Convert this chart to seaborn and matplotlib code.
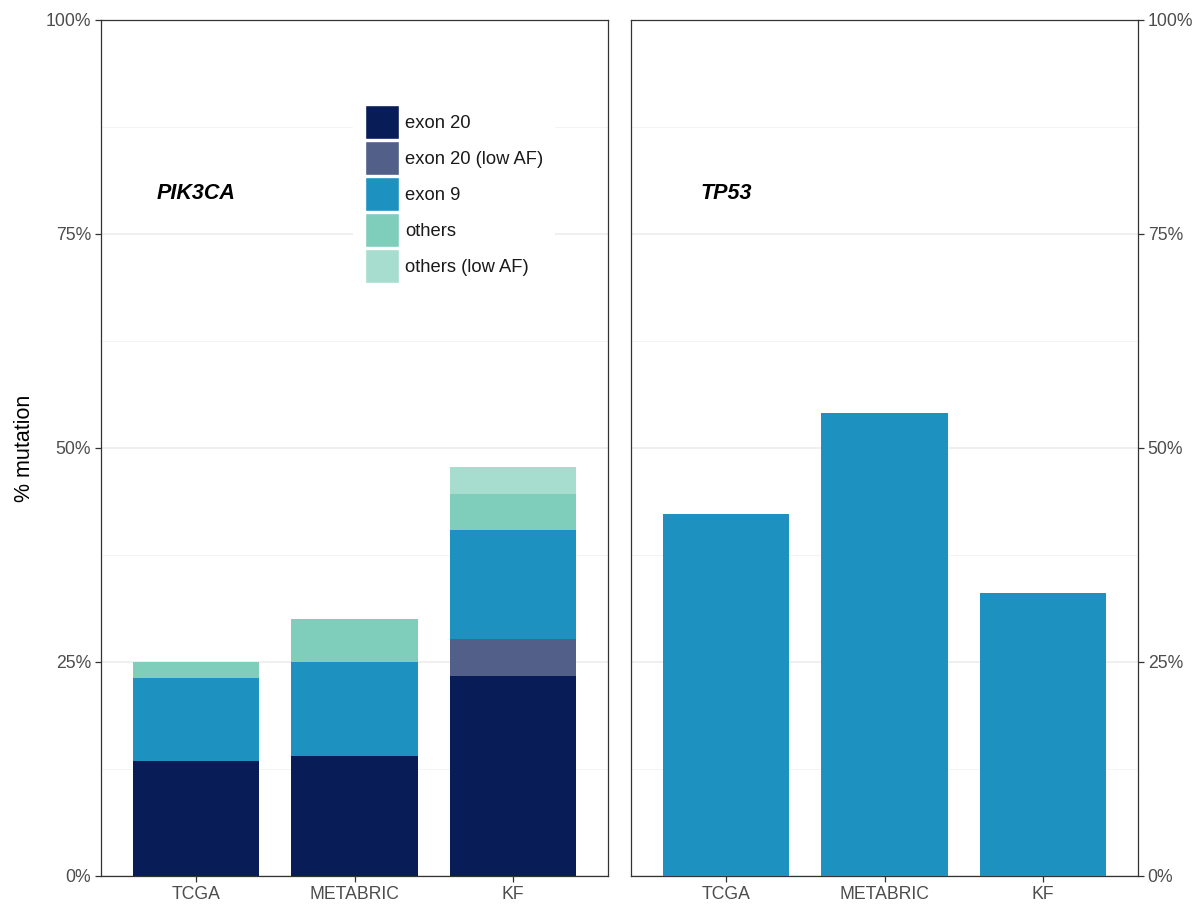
import numpy as np
import pandas as pd
import matplotlib
matplotlib.use("Agg")
import matplotlib.pyplot as plt
from matplotlib.patches import Patch
import seaborn as sns

sns.set_theme(style="white")
plt.rcParams['font.family'] = ['Liberation Sans', 'DejaVu Sans']

# ---- data ----
cohorts = ["TCGA", "METABRIC", "KF"]
layers = ["exon 20", "exon 20 (low AF)", "exon 9", "others", "others (low AF)"]
pik3ca_exon20 = [13.45, 14.05, 23.4]
pik3ca_exon20_low = [0.0, 0.0, 4.3]
pik3ca_exon9 = [9.65, 10.95, 12.7]
pik3ca_others = [1.9, 5.0, 4.2]
pik3ca_others_low = [0.0, 0.0, 3.2]
tp53_values = [42.3, 54.0, 33.0]
y_ticks = [0, 25, 50, 75, 100]
y_tick_labels = ["0%", "25%", "50%", "75%", "100%"]
gene_labels = ["PIK3CA", "TP53"]

colors = ["#081d58", "#525f88", "#1d91c0", "#7fcdbb", "#a6ddcf"]
tp53_color = "#1d91c0"

W, H = 1204, 907
fig = plt.figure(figsize=(W / 100, H / 100), dpi=100)
fig.patch.set_facecolor("white")

top_px, bot_px = 19.5, 876
ax1 = fig.add_axes([101 / W, (H - bot_px) / H, 507 / W, (bot_px - top_px) / H])
ax2 = fig.add_axes([631 / W, (H - bot_px) / H, 507 / W, (bot_px - top_px) / H])

tick_col = "#4d4d4d"
border_col = "#333333"
grid_col = "#ebebeb"


def style_axes(ax, right=False):
    ax.set_ylim(0, 100)
    ax.set_xlim(-0.6, 2.6)
    ax.set_yticks(y_ticks)
    ax.set_yticks([12.5, 37.5, 62.5, 87.5], minor=True)
    ax.set_yticklabels(y_tick_labels)
    ax.grid(True, axis="y", which="major", color=grid_col, linewidth=1.1)
    ax.grid(True, axis="y", which="minor", color="#f2f2f2", linewidth=0.6)
    ax.grid(False, axis="x")
    ax.set_axisbelow(True)
    for s in ax.spines.values():
        s.set_visible(True)
        s.set_color(border_col)
        s.set_linewidth(0.9)
    ax.tick_params(axis="both", which="major", length=4, width=0.9, color=border_col,
                   labelsize=12.7, labelcolor=tick_col, pad=3)
    ax.tick_params(axis="y", which="minor", length=0)
    if right:
        ax.yaxis.tick_right()
        ax.tick_params(axis="y", which="both", left=False, right=True)
    else:
        ax.tick_params(axis="y", which="both", left=True, right=False)
    ax.tick_params(axis="x", bottom=True, top=False)
    ax.set_xlabel("")
    ax.set_ylabel("")


# stacked PIK3CA bars: draw cumulative heights from the top layer down
stack = np.array([pik3ca_exon20, pik3ca_exon20_low, pik3ca_exon9,
                  pik3ca_others, pik3ca_others_low])
cum = np.cumsum(stack, axis=0)
for i in range(len(layers) - 1, -1, -1):
    df = pd.DataFrame({"cohort": cohorts, "value": cum[i]})
    sns.barplot(data=df, x="cohort", y="value", order=cohorts, color=colors[i],
                saturation=1, width=0.8, linewidth=0, ax=ax1, zorder=3)

df2 = pd.DataFrame({"cohort": cohorts, "value": tp53_values})
sns.barplot(data=df2, x="cohort", y="value", order=cohorts, color=tp53_color,
            saturation=1, width=0.8, linewidth=0, ax=ax2, zorder=3)

style_axes(ax1)
style_axes(ax2, right=True)

for ax, lab in zip([ax1, ax2], gene_labels):
    ax.text(0, 79.7, lab, ha="center", va="center", fontsize=15.5,
            fontweight="bold", fontstyle="italic", color="black", zorder=5)

fig.text(25 / W, 1 - 448 / H, "% mutation", rotation=90, ha="center", va="center",
         fontsize=15.5, color="black")

handles = [Patch(facecolor=c, edgecolor="white", linewidth=1.0) for c in colors]
fs = 13.2
fpx = fs * 100 / 72
key_px = 34
hh = (key_px / fpx - 0.245) / 0.65
leg = ax1.legend(handles, layers, loc="upper left",
                 bbox_to_anchor=(353 / W, 1 - 93 / H), bbox_transform=fig.transFigure,
                 borderaxespad=0, frameon=True, fontsize=fs,
                 handlelength=key_px / fpx, handleheight=hh,
                 labelspacing=2 / fpx, handletextpad=6 / fpx,
                 borderpad=12 / fpx, fancybox=False)
leg.get_frame().set_facecolor("white")
leg.get_frame().set_edgecolor("none")
leg.get_frame().set_alpha(1)
leg.set_zorder(10)
for t in leg.get_texts():
    t.set_color("#1a1a1a")

fig.savefig("out.png", dpi=100, facecolor="white")
